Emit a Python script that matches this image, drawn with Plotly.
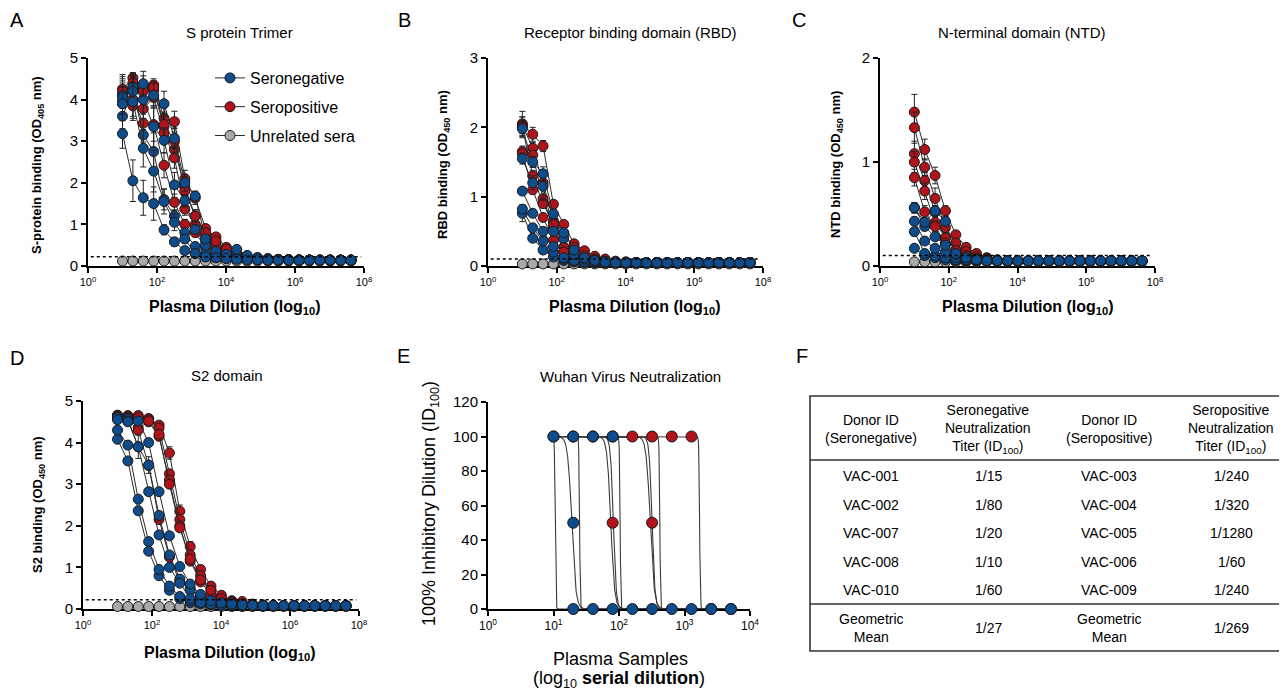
import numpy as np
import plotly.graph_objects as go

W, H = 1287, 693
OFF = 8  # default page margin of the html body
FW, FH = W - OFF, H - OFF
FONT = "Liberation Sans, Arial, sans-serif"
BLUE = "#0E4C8C"
RED = "#B0141A"
GRAY = "#A9A9A9"
EDGE = "#1A1A1A"
LINE = "#2A2A2A"

# ---------------- data ----------------
dilutions = [10, 20, 40, 80, 160, 320, 640, 1280, 2560, 5120, 10240, 20480, 40960,
             81920, 163840, 327680, 655360, 1310720, 2621440, 5242880, 10485760,
             20971520, 41943040]

# Panel A: S protein trimer (OD405)
A_seroneg = [
    [3.18, 2.05, 1.64, 1.50, 0.87, 0.58, 0.37, 0.30, 0.22, 0.20, 0.18, 0.17, 0.16, 0.15, 0.15, 0.14, 0.14, 0.14, 0.14, 0.14, 0.14, 0.14, 0.14],
    [3.60, 4.22, 3.15, 2.75, 1.60, 1.20, 0.80, 0.47, 0.30, 0.25, 0.22, 0.19, 0.17, 0.16, 0.15, 0.15, 0.14, 0.14, 0.14, 0.14, 0.14, 0.14, 0.14],
    [4.10, 4.30, 4.00, 3.35, 3.02, 1.95, 1.57, 0.88, 0.50, 0.30, 0.25, 0.20, 0.18, 0.16, 0.15, 0.15, 0.14, 0.14, 0.14, 0.14, 0.14, 0.14, 0.14],
    [4.05, 4.20, 4.38, 4.10, 3.90, 3.07, 2.00, 1.68, 0.65, 0.35, 0.28, 0.40, 0.25, 0.20, 0.17, 0.16, 0.15, 0.15, 0.14, 0.14, 0.14, 0.14, 0.14],
    [3.90, 3.95, 2.83, 2.28, 1.55, 1.05, 0.65, 0.30, 0.22, 0.20, 0.18, 0.16, 0.15, 0.15, 0.14, 0.14, 0.14, 0.14, 0.14, 0.14, 0.14, 0.14, 0.14],
]
A_seroneg_err = [
    [0.35, 0.50, 0.42, 0.40, 0.12, 0.10, 0.06, 0.05, 0.04, 0.03, 0.03, 0.02, 0.02, 0.02, 0.02, 0.02, 0.02, 0.02, 0.02, 0.02, 0.02, 0.02, 0.02],
    [0.30, 0.35, 0.40, 0.45, 0.25, 0.15, 0.10, 0.06, 0.05, 0.04, 0.03, 0.02, 0.02, 0.02, 0.02, 0.02, 0.02, 0.02, 0.02, 0.02, 0.02, 0.02, 0.02],
    [0.45, 0.35, 0.35, 0.50, 0.30, 0.30, 0.15, 0.10, 0.05, 0.04, 0.03, 0.02, 0.02, 0.02, 0.02, 0.02, 0.02, 0.02, 0.02, 0.02, 0.02, 0.02, 0.02],
    [0.40, 0.35, 0.30, 0.30, 0.30, 0.25, 0.20, 0.12, 0.08, 0.05, 0.04, 0.05, 0.03, 0.02, 0.02, 0.02, 0.02, 0.02, 0.02, 0.02, 0.02, 0.02, 0.02],
    [0.40, 0.45, 0.45, 0.50, 0.30, 0.20, 0.10, 0.05, 0.04, 0.03, 0.03, 0.02, 0.02, 0.02, 0.02, 0.02, 0.02, 0.02, 0.02, 0.02, 0.02, 0.02, 0.02],
]
A_seropos = [
    [4.25, 4.52, 4.27, 4.35, 3.55, 3.47, 2.10, 1.63, 0.90, 0.70, 0.45, 0.30, 0.25, 0.20, 0.18, 0.16, 0.15, 0.15, 0.14, 0.14, 0.14, 0.14, 0.14],
    [3.95, 4.40, 4.25, 4.22, 3.35, 2.80, 1.90, 1.20, 0.75, 0.55, 0.40, 0.28, 0.22, 0.18, 0.16, 0.15, 0.15, 0.14, 0.14, 0.14, 0.14, 0.14, 0.14],
    [3.90, 3.85, 3.78, 4.05, 3.20, 2.60, 1.37, 1.00, 0.60, 0.45, 0.35, 0.25, 0.20, 0.17, 0.15, 0.15, 0.14, 0.14, 0.14, 0.14, 0.14, 0.14, 0.14],
    [4.20, 4.00, 3.43, 3.40, 2.42, 1.53, 1.00, 0.80, 0.45, 0.30, 0.25, 0.20, 0.17, 0.15, 0.15, 0.14, 0.14, 0.14, 0.14, 0.14, 0.14, 0.14, 0.14],
    [4.10, 4.30, 4.20, 4.30, 3.40, 3.00, 1.80, 1.20, 0.80, 0.60, 0.40, 0.28, 0.22, 0.18, 0.16, 0.15, 0.15, 0.14, 0.14, 0.14, 0.14, 0.14, 0.14],
]
A_seropos_err = [
    [0.35, 0.10, 0.30, 0.10, 0.30, 0.25, 0.20, 0.15, 0.10, 0.08, 0.05, 0.03, 0.02, 0.02, 0.02, 0.02, 0.02, 0.02, 0.02, 0.02, 0.02, 0.02, 0.02],
    [0.30, 0.20, 0.20, 0.15, 0.30, 0.30, 0.25, 0.15, 0.10, 0.05, 0.04, 0.03, 0.02, 0.02, 0.02, 0.02, 0.02, 0.02, 0.02, 0.02, 0.02, 0.02, 0.02],
    [0.35, 0.30, 0.35, 0.20, 0.25, 0.25, 0.15, 0.10, 0.08, 0.05, 0.04, 0.03, 0.02, 0.02, 0.02, 0.02, 0.02, 0.02, 0.02, 0.02, 0.02, 0.02, 0.02],
    [0.30, 0.40, 0.45, 0.40, 0.30, 0.20, 0.12, 0.08, 0.05, 0.04, 0.03, 0.02, 0.02, 0.02, 0.02, 0.02, 0.02, 0.02, 0.02, 0.02, 0.02, 0.02, 0.02],
    [0.30, 0.20, 0.25, 0.20, 0.30, 0.30, 0.20, 0.15, 0.10, 0.06, 0.04, 0.03, 0.02, 0.02, 0.02, 0.02, 0.02, 0.02, 0.02, 0.02, 0.02, 0.02, 0.02],
]
A_unrelated = [0.12, 0.12, 0.12, 0.12, 0.12, 0.12, 0.12, 0.12, 0.12, 0.12, 0.12, 0.12, 0.12, 0.12, 0.12, 0.12, 0.12, 0.12, 0.12, 0.12, 0.12, 0.12, 0.12]
A_cutoff = 0.22

# Panel B: RBD (OD450)
B_seroneg = [
    [0.76, 0.40, 0.23, 0.13, 0.08, 0.06, 0.05, 0.05, 0.05, 0.05, 0.05, 0.05, 0.05, 0.05, 0.05, 0.05, 0.05, 0.05, 0.05, 0.05, 0.05, 0.05, 0.05],
    [0.82, 0.55, 0.36, 0.20, 0.10, 0.07, 0.06, 0.05, 0.05, 0.05, 0.05, 0.05, 0.05, 0.05, 0.05, 0.05, 0.05, 0.05, 0.05, 0.05, 0.05, 0.05, 0.05],
    [1.08, 0.76, 0.50, 0.28, 0.12, 0.08, 0.06, 0.05, 0.05, 0.05, 0.05, 0.05, 0.05, 0.05, 0.05, 0.05, 0.05, 0.05, 0.05, 0.05, 0.05, 0.05, 0.05],
    [1.55, 1.20, 1.15, 0.50, 0.40, 0.17, 0.10, 0.07, 0.06, 0.05, 0.05, 0.05, 0.05, 0.05, 0.05, 0.05, 0.05, 0.05, 0.05, 0.05, 0.05, 0.05, 0.05],
    [1.98, 1.50, 1.33, 0.75, 0.48, 0.23, 0.12, 0.08, 0.06, 0.05, 0.05, 0.05, 0.05, 0.05, 0.05, 0.05, 0.05, 0.05, 0.05, 0.05, 0.05, 0.05, 0.05],
]
B_seroneg_err = [
    [0.12, 0.04, 0.03, 0.02, 0.01, 0.01, 0.01, 0.01, 0.01, 0.01, 0.01, 0.01, 0.01, 0.01, 0.01, 0.01, 0.01, 0.01, 0.01, 0.01, 0.01, 0.01, 0.01],
    [0.06, 0.05, 0.04, 0.03, 0.02, 0.01, 0.01, 0.01, 0.01, 0.01, 0.01, 0.01, 0.01, 0.01, 0.01, 0.01, 0.01, 0.01, 0.01, 0.01, 0.01, 0.01, 0.01],
    [0.05, 0.05, 0.04, 0.03, 0.02, 0.01, 0.01, 0.01, 0.01, 0.01, 0.01, 0.01, 0.01, 0.01, 0.01, 0.01, 0.01, 0.01, 0.01, 0.01, 0.01, 0.01, 0.01],
    [0.08, 0.10, 0.20, 0.05, 0.05, 0.02, 0.01, 0.01, 0.01, 0.01, 0.01, 0.01, 0.01, 0.01, 0.01, 0.01, 0.01, 0.01, 0.01, 0.01, 0.01, 0.01, 0.01],
    [0.10, 0.08, 0.10, 0.06, 0.05, 0.03, 0.02, 0.01, 0.01, 0.01, 0.01, 0.01, 0.01, 0.01, 0.01, 0.01, 0.01, 0.01, 0.01, 0.01, 0.01, 0.01, 0.01],
]
B_seropos = [
    [2.05, 1.90, 1.73, 0.89, 0.60, 0.32, 0.22, 0.14, 0.10, 0.07, 0.06, 0.05, 0.05, 0.05, 0.05, 0.05, 0.05, 0.05, 0.05, 0.05, 0.05, 0.05, 0.05],
    [2.03, 1.70, 1.20, 0.65, 0.47, 0.27, 0.15, 0.10, 0.07, 0.06, 0.05, 0.05, 0.05, 0.05, 0.05, 0.05, 0.05, 0.05, 0.05, 0.05, 0.05, 0.05, 0.05],
    [1.65, 1.60, 0.97, 0.55, 0.27, 0.15, 0.10, 0.08, 0.06, 0.05, 0.05, 0.05, 0.05, 0.05, 0.05, 0.05, 0.05, 0.05, 0.05, 0.05, 0.05, 0.05, 0.05],
    [2.00, 1.30, 0.90, 0.60, 0.20, 0.12, 0.08, 0.06, 0.05, 0.05, 0.05, 0.05, 0.05, 0.05, 0.05, 0.05, 0.05, 0.05, 0.05, 0.05, 0.05, 0.05, 0.05],
    [1.62, 1.10, 0.70, 0.37, 0.20, 0.12, 0.08, 0.06, 0.05, 0.05, 0.05, 0.05, 0.05, 0.05, 0.05, 0.05, 0.05, 0.05, 0.05, 0.05, 0.05, 0.05, 0.05],
]
B_seropos_err = [
    [0.18, 0.10, 0.08, 0.05, 0.04, 0.03, 0.02, 0.01, 0.01, 0.01, 0.01, 0.01, 0.01, 0.01, 0.01, 0.01, 0.01, 0.01, 0.01, 0.01, 0.01, 0.01, 0.01],
    [0.12, 0.08, 0.08, 0.05, 0.04, 0.03, 0.02, 0.01, 0.01, 0.01, 0.01, 0.01, 0.01, 0.01, 0.01, 0.01, 0.01, 0.01, 0.01, 0.01, 0.01, 0.01, 0.01],
    [0.08, 0.06, 0.06, 0.04, 0.03, 0.02, 0.01, 0.01, 0.01, 0.01, 0.01, 0.01, 0.01, 0.01, 0.01, 0.01, 0.01, 0.01, 0.01, 0.01, 0.01, 0.01, 0.01],
    [0.15, 0.08, 0.06, 0.05, 0.03, 0.02, 0.01, 0.01, 0.01, 0.01, 0.01, 0.01, 0.01, 0.01, 0.01, 0.01, 0.01, 0.01, 0.01, 0.01, 0.01, 0.01, 0.01],
    [0.06, 0.06, 0.05, 0.04, 0.03, 0.02, 0.01, 0.01, 0.01, 0.01, 0.01, 0.01, 0.01, 0.01, 0.01, 0.01, 0.01, 0.01, 0.01, 0.01, 0.01, 0.01, 0.01],
]
B_unrelated = [0.03, 0.03, 0.03, 0.03, 0.03, 0.03, 0.03, 0.03, 0.03, 0.03, 0.03, 0.03, 0.03, 0.03, 0.03, 0.03, 0.03, 0.03, 0.03, 0.03, 0.03, 0.03, 0.03]
B_cutoff = 0.10

# Panel C: NTD (OD450)
C_seroneg = [
    [0.17, 0.10, 0.08, 0.06, 0.05, 0.05, 0.05, 0.05, 0.05, 0.05, 0.05, 0.05, 0.05, 0.05, 0.05, 0.05, 0.05, 0.05, 0.05, 0.05, 0.05, 0.05, 0.05],
    [0.33, 0.12, 0.10, 0.08, 0.06, 0.05, 0.05, 0.05, 0.05, 0.05, 0.05, 0.05, 0.05, 0.05, 0.05, 0.05, 0.05, 0.05, 0.05, 0.05, 0.05, 0.05, 0.05],
    [0.43, 0.24, 0.17, 0.13, 0.08, 0.06, 0.05, 0.05, 0.05, 0.05, 0.05, 0.05, 0.05, 0.05, 0.05, 0.05, 0.05, 0.05, 0.05, 0.05, 0.05, 0.05, 0.05],
    [0.56, 0.38, 0.28, 0.20, 0.11, 0.08, 0.06, 0.05, 0.05, 0.05, 0.05, 0.05, 0.05, 0.05, 0.05, 0.05, 0.05, 0.05, 0.05, 0.05, 0.05, 0.05, 0.05],
    [0.56, 0.42, 0.53, 0.43, 0.12, 0.08, 0.06, 0.05, 0.05, 0.05, 0.05, 0.05, 0.05, 0.05, 0.05, 0.05, 0.05, 0.05, 0.05, 0.05, 0.05, 0.05, 0.05],
]
C_seroneg_err = [
    [0.03, 0.02, 0.01, 0.01, 0.01, 0.01, 0.01, 0.01, 0.01, 0.01, 0.01, 0.01, 0.01, 0.01, 0.01, 0.01, 0.01, 0.01, 0.01, 0.01, 0.01, 0.01, 0.01],
    [0.04, 0.02, 0.02, 0.01, 0.01, 0.01, 0.01, 0.01, 0.01, 0.01, 0.01, 0.01, 0.01, 0.01, 0.01, 0.01, 0.01, 0.01, 0.01, 0.01, 0.01, 0.01, 0.01],
    [0.04, 0.03, 0.02, 0.02, 0.01, 0.01, 0.01, 0.01, 0.01, 0.01, 0.01, 0.01, 0.01, 0.01, 0.01, 0.01, 0.01, 0.01, 0.01, 0.01, 0.01, 0.01, 0.01],
    [0.05, 0.04, 0.03, 0.02, 0.01, 0.01, 0.01, 0.01, 0.01, 0.01, 0.01, 0.01, 0.01, 0.01, 0.01, 0.01, 0.01, 0.01, 0.01, 0.01, 0.01, 0.01, 0.01],
    [0.05, 0.04, 0.05, 0.04, 0.02, 0.01, 0.01, 0.01, 0.01, 0.01, 0.01, 0.01, 0.01, 0.01, 0.01, 0.01, 0.01, 0.01, 0.01, 0.01, 0.01, 0.01, 0.01],
]
C_seropos = [
    [1.48, 1.12, 0.87, 0.53, 0.30, 0.18, 0.12, 0.08, 0.06, 0.05, 0.05, 0.05, 0.05, 0.05, 0.05, 0.05, 0.05, 0.05, 0.05, 0.05, 0.05, 0.05, 0.05],
    [1.33, 0.95, 0.65, 0.37, 0.22, 0.14, 0.09, 0.07, 0.05, 0.05, 0.05, 0.05, 0.05, 0.05, 0.05, 0.05, 0.05, 0.05, 0.05, 0.05, 0.05, 0.05, 0.05],
    [1.08, 0.82, 0.52, 0.27, 0.15, 0.10, 0.07, 0.06, 0.05, 0.05, 0.05, 0.05, 0.05, 0.05, 0.05, 0.05, 0.05, 0.05, 0.05, 0.05, 0.05, 0.05, 0.05],
    [1.00, 0.72, 0.42, 0.27, 0.15, 0.10, 0.07, 0.05, 0.05, 0.05, 0.05, 0.05, 0.05, 0.05, 0.05, 0.05, 0.05, 0.05, 0.05, 0.05, 0.05, 0.05, 0.05],
    [0.85, 0.52, 0.38, 0.22, 0.12, 0.08, 0.06, 0.05, 0.05, 0.05, 0.05, 0.05, 0.05, 0.05, 0.05, 0.05, 0.05, 0.05, 0.05, 0.05, 0.05, 0.05, 0.05],
]
C_seropos_err = [
    [0.17, 0.10, 0.08, 0.05, 0.03, 0.02, 0.01, 0.01, 0.01, 0.01, 0.01, 0.01, 0.01, 0.01, 0.01, 0.01, 0.01, 0.01, 0.01, 0.01, 0.01, 0.01, 0.01],
    [0.15, 0.08, 0.10, 0.05, 0.03, 0.02, 0.01, 0.01, 0.01, 0.01, 0.01, 0.01, 0.01, 0.01, 0.01, 0.01, 0.01, 0.01, 0.01, 0.01, 0.01, 0.01, 0.01],
    [0.12, 0.08, 0.06, 0.04, 0.02, 0.01, 0.01, 0.01, 0.01, 0.01, 0.01, 0.01, 0.01, 0.01, 0.01, 0.01, 0.01, 0.01, 0.01, 0.01, 0.01, 0.01, 0.01],
    [0.10, 0.08, 0.06, 0.04, 0.02, 0.01, 0.01, 0.01, 0.01, 0.01, 0.01, 0.01, 0.01, 0.01, 0.01, 0.01, 0.01, 0.01, 0.01, 0.01, 0.01, 0.01, 0.01],
    [0.08, 0.06, 0.05, 0.03, 0.02, 0.01, 0.01, 0.01, 0.01, 0.01, 0.01, 0.01, 0.01, 0.01, 0.01, 0.01, 0.01, 0.01, 0.01, 0.01, 0.01, 0.01, 0.01],
]
C_unrelated = [0.04, 0.04, 0.04, 0.04, 0.04, 0.04, 0.04, 0.04, 0.04, 0.04, 0.04, 0.04, 0.04, 0.04, 0.04, 0.04, 0.04, 0.04, 0.04, 0.04, 0.04, 0.04, 0.04]
C_cutoff = 0.10

# Panel D: S2 domain (OD450)
D_seroneg = [
    [4.08, 3.56, 2.36, 1.39, 0.80, 0.45, 0.25, 0.15, 0.12, 0.10, 0.09, 0.08, 0.08, 0.08, 0.08, 0.08, 0.08, 0.08, 0.08, 0.08, 0.08, 0.08, 0.08],
    [4.30, 3.94, 2.64, 1.62, 0.95, 0.55, 0.30, 0.20, 0.15, 0.12, 0.10, 0.09, 0.08, 0.08, 0.08, 0.08, 0.08, 0.08, 0.08, 0.08, 0.08, 0.08, 0.08],
    [4.58, 4.57, 3.90, 3.46, 2.25, 1.30, 0.72, 0.45, 0.25, 0.15, 0.12, 0.10, 0.09, 0.08, 0.08, 0.08, 0.08, 0.08, 0.08, 0.08, 0.08, 0.08, 0.08],
    [4.60, 4.52, 3.90, 2.82, 1.78, 1.00, 0.62, 0.25, 0.15, 0.12, 0.10, 0.09, 0.08, 0.08, 0.08, 0.08, 0.08, 0.08, 0.08, 0.08, 0.08, 0.08, 0.08],
    [4.55, 4.50, 4.52, 4.00, 2.82, 1.76, 1.02, 0.60, 0.35, 0.20, 0.15, 0.12, 0.10, 0.09, 0.08, 0.08, 0.08, 0.08, 0.08, 0.08, 0.08, 0.08, 0.08],
]
D_seroneg_err = [
    [0.06, 0.05, 0.05, 0.05, 0.04, 0.03, 0.02, 0.01, 0.01, 0.01, 0.01, 0.01, 0.01, 0.01, 0.01, 0.01, 0.01, 0.01, 0.01, 0.01, 0.01, 0.01, 0.01],
    [0.06, 0.06, 0.05, 0.05, 0.04, 0.03, 0.02, 0.01, 0.01, 0.01, 0.01, 0.01, 0.01, 0.01, 0.01, 0.01, 0.01, 0.01, 0.01, 0.01, 0.01, 0.01, 0.01],
    [0.05, 0.05, 0.28, 0.20, 0.08, 0.05, 0.03, 0.02, 0.01, 0.01, 0.01, 0.01, 0.01, 0.01, 0.01, 0.01, 0.01, 0.01, 0.01, 0.01, 0.01, 0.01, 0.01],
    [0.05, 0.05, 0.10, 0.08, 0.06, 0.04, 0.03, 0.02, 0.01, 0.01, 0.01, 0.01, 0.01, 0.01, 0.01, 0.01, 0.01, 0.01, 0.01, 0.01, 0.01, 0.01, 0.01],
    [0.05, 0.05, 0.05, 0.08, 0.08, 0.05, 0.04, 0.03, 0.02, 0.01, 0.01, 0.01, 0.01, 0.01, 0.01, 0.01, 0.01, 0.01, 0.01, 0.01, 0.01, 0.01, 0.01],
]
D_seropos = [
    [4.66, 4.65, 4.65, 4.58, 4.42, 3.75, 2.35, 1.50, 0.95, 0.55, 0.33, 0.20, 0.18, 0.12, 0.10, 0.09, 0.08, 0.08, 0.08, 0.08, 0.08, 0.08, 0.08],
    [4.65, 4.62, 4.55, 4.55, 4.35, 3.25, 2.15, 1.30, 0.80, 0.45, 0.25, 0.18, 0.12, 0.10, 0.09, 0.08, 0.08, 0.08, 0.08, 0.08, 0.08, 0.08, 0.08],
    [4.62, 4.60, 4.35, 4.50, 4.15, 3.10, 2.00, 1.15, 0.65, 0.35, 0.20, 0.15, 0.10, 0.09, 0.08, 0.08, 0.08, 0.08, 0.08, 0.08, 0.08, 0.08, 0.08],
    [4.64, 4.60, 4.60, 4.52, 4.20, 3.00, 1.95, 1.20, 0.70, 0.45, 0.25, 0.15, 0.12, 0.10, 0.09, 0.08, 0.08, 0.08, 0.08, 0.08, 0.08, 0.08, 0.08],
    [4.62, 4.55, 4.30, 3.45, 2.15, 1.25, 0.65, 0.50, 0.30, 0.20, 0.15, 0.12, 0.10, 0.09, 0.08, 0.08, 0.08, 0.08, 0.08, 0.08, 0.08, 0.08, 0.08],
]
D_seropos_err = [
    [0.04, 0.04, 0.04, 0.05, 0.06, 0.15, 0.15, 0.12, 0.08, 0.05, 0.03, 0.02, 0.01, 0.01, 0.01, 0.01, 0.01, 0.01, 0.01, 0.01, 0.01, 0.01, 0.01],
    [0.04, 0.04, 0.05, 0.05, 0.06, 0.10, 0.10, 0.08, 0.06, 0.04, 0.02, 0.01, 0.01, 0.01, 0.01, 0.01, 0.01, 0.01, 0.01, 0.01, 0.01, 0.01, 0.01],
    [0.04, 0.04, 0.05, 0.05, 0.08, 0.10, 0.08, 0.06, 0.05, 0.03, 0.02, 0.01, 0.01, 0.01, 0.01, 0.01, 0.01, 0.01, 0.01, 0.01, 0.01, 0.01, 0.01],
    [0.04, 0.04, 0.04, 0.05, 0.06, 0.08, 0.08, 0.06, 0.05, 0.03, 0.02, 0.01, 0.01, 0.01, 0.01, 0.01, 0.01, 0.01, 0.01, 0.01, 0.01, 0.01, 0.01],
    [0.04, 0.05, 0.06, 0.10, 0.08, 0.06, 0.04, 0.03, 0.02, 0.01, 0.01, 0.01, 0.01, 0.01, 0.01, 0.01, 0.01, 0.01, 0.01, 0.01, 0.01, 0.01, 0.01],
]
D_unrelated = [0.06, 0.06, 0.06, 0.06, 0.06, 0.06, 0.06, 0.06, 0.06, 0.06, 0.06, 0.06, 0.06, 0.06, 0.06, 0.06, 0.06, 0.06, 0.06, 0.06, 0.06, 0.06, 0.06]
D_cutoff = 0.22

# Panel E: neutralization (points and fitted curves)
E_seroneg_x = [10, 20, 40, 80, 20, 20, 40, 80, 160, 320, 640, 1280, 2560, 5120]
E_seroneg_y = [100, 100, 100, 100, 50, 0, 0, 0, 0, 0, 0, 0, 0, 0]
E_seropos_x = [10, 20, 40, 80, 160, 320, 640, 1280, 80, 320, 2560, 5120]
E_seropos_y = [100, 100, 100, 100, 100, 100, 100, 100, 50, 50, 0, 0]
E_seroneg_ic50 = [19, 104, 25, 10.6, 75]
E_seroneg_hill = [14, 80, 80, 80, 15]
E_seropos_ic50 = [300, 420, 1700, 82, 320]
E_seropos_hill = [14, 80, 80, 20, 20]
E_fit_range = [10, 5120]

# Panel F: table
tbl_header = ["Donor ID<br>(Seronegative)",
              "Seronegative<br>Neutralization<br>Titer (ID<sub>100</sub>)",
              "Donor ID<br>(Seropositive)",
              "Seropositive<br>Neutralization<br>Titer (ID<sub>100</sub>)"]
seroneg_donors = ["VAC-001", "VAC-002", "VAC-007", "VAC-008", "VAC-010"]
seroneg_titers = ["1/15", "1/80", "1/20", "1/10", "1/60"]
seropos_donors = ["VAC-003", "VAC-004", "VAC-005", "VAC-006", "VAC-009"]
seropos_titers = ["1/240", "1/320", "1/1280", "1/60", "1/240"]
geo_label = "Geometric<br>Mean"
seroneg_geomean = "1/27"
seropos_geomean = "1/269"

# ---------------- helpers (page pixel -> paper) ----------------
def px_x(p):
    return (p - OFF) / FW

def px_y(p):
    return 1 - (p - OFF) / FH

fig = go.Figure()
annotations = []
shapes = []

def ann(x, y, text, size, bold=False, angle=0, xanchor="center", yanchor="middle"):
    if bold:
        text = "<b>" + text + "</b>"
    annotations.append(dict(x=px_x(x), y=px_y(y), xref="paper", yref="paper", text=text,
                            showarrow=False, textangle=angle, xanchor=xanchor, yanchor=yanchor,
                            font=dict(family=FONT, size=size, color="black")))

def binding_panel(n, neg, neg_err, pos, pos_err, unrel, cutoff, legend):
    xa = "x" if n == 1 else "x%d" % n
    ya = "y" if n == 1 else "y%d" % n
    def add(y, err, color, name, rank, show):
        xs = dilutions[:len(y)]
        fig.add_trace(go.Scatter(
            x=xs, y=y, xaxis=xa, yaxis=ya, mode="lines+markers",
            line=dict(color=LINE, width=1),
            marker=dict(size=10, color=color, line=dict(color=EDGE, width=1)),
            error_y=None if err is None else dict(type="data", array=err[:len(y)], visible=True,
                                                    color="#222", thickness=1, width=3),
            name=name, legendgroup=name, legendrank=rank, showlegend=show,
            cliponaxis=False))
    add(unrel, None, GRAY, "Unrelated sera", 3, legend)
    for i, (y, e) in enumerate(zip(pos, pos_err)):
        add(y, e, RED, "Seropositive", 2, legend and i == 0)
    for i, (y, e) in enumerate(zip(neg, neg_err)):
        add(y, e, BLUE, "Seronegative", 1, legend and i == 0)
    shapes.append(dict(type="line", xref=xa + " domain", yref=ya, x0=0.01, x1=0.99,
                       y0=cutoff, y1=cutoff, line=dict(color="black", width=1.5, dash="dot")))

binding_panel(1, A_seroneg, A_seroneg_err, A_seropos, A_seropos_err, A_unrelated, A_cutoff, True)
binding_panel(2, B_seroneg, B_seroneg_err, B_seropos, B_seropos_err, B_unrelated, B_cutoff, False)
binding_panel(3, C_seroneg, C_seroneg_err, C_seropos, C_seropos_err, C_unrelated, C_cutoff, False)
binding_panel(4, D_seroneg, D_seroneg_err, D_seropos, D_seropos_err, D_unrelated, D_cutoff, False)

# Panel E fitted curves
xfit = np.logspace(np.log10(E_fit_range[0]), np.log10(E_fit_range[1]), 600)
for ic, h in list(zip(E_seroneg_ic50, E_seroneg_hill)) + list(zip(E_seropos_ic50, E_seropos_hill)):
    yfit = 100.0 / (1.0 + (xfit / ic) ** h)
    fig.add_trace(go.Scatter(x=xfit, y=yfit, xaxis="x5", yaxis="y5", mode="lines",
                             line=dict(color="#3a3a3a", width=1.1), showlegend=False,
                             hoverinfo="skip", cliponaxis=False))
fig.add_trace(go.Scatter(x=E_seropos_x, y=E_seropos_y, xaxis="x5", yaxis="y5", mode="markers",
                         marker=dict(size=11, color=RED, line=dict(color=EDGE, width=1)),
                         showlegend=False, cliponaxis=False))
fig.add_trace(go.Scatter(x=E_seroneg_x, y=E_seroneg_y, xaxis="x5", yaxis="y5", mode="markers",
                         marker=dict(size=11, color=BLUE, line=dict(color=EDGE, width=1)),
                         showlegend=False, cliponaxis=False))

# ---------------- axes ----------------
def xaxis(dom, rng, tickvals, size):
    return dict(domain=[px_x(dom[0]), px_x(dom[1])], type="log", range=rng,
                tickvals=tickvals,
                ticktext=["10<sup>%d</sup>" % int(round(np.log10(v))) for v in tickvals],
                showline=True, linecolor="black", linewidth=2, ticks="outside", ticklen=5,
                tickwidth=1.5, tickcolor="black", showgrid=False, zeroline=False,
                automargin=False,
                tickfont=dict(family=FONT, size=size, color="black"), layer="below traces")

def yaxis(dom, rng, dtick, size):
    return dict(domain=[px_y(dom[1]), px_y(dom[0])], range=rng, dtick=dtick, tick0=0,
                showline=True, linecolor="black", linewidth=2, ticks="outside", ticklen=5,
                tickwidth=1.5, tickcolor="black", showgrid=False, zeroline=False,
                automargin=False,
                tickfont=dict(family=FONT, size=size, color="black"), layer="below traces")

bind_ticks = [1, 1e2, 1e4, 1e6, 1e8]
layout_axes = {}
layout_axes["xaxis"] = dict(xaxis((88, 364), [0, 8], bind_ticks, 11), anchor="y")
layout_axes["yaxis"] = dict(yaxis((58, 266), [0, 5], 1, 15), anchor="x")
layout_axes["xaxis2"] = dict(xaxis((488, 763), [0, 8], bind_ticks, 11), anchor="y2")
layout_axes["yaxis2"] = dict(yaxis((58, 266), [0, 3], 1, 15), anchor="x2")
layout_axes["xaxis3"] = dict(xaxis((880, 1155), [0, 8], bind_ticks, 11), anchor="y3")
layout_axes["yaxis3"] = dict(yaxis((58, 266), [0, 2], 1, 15), anchor="x3")
layout_axes["xaxis4"] = dict(xaxis((83, 359), [0, 8], bind_ticks, 11), anchor="y4")
layout_axes["yaxis4"] = dict(yaxis((401, 609), [0, 5], 1, 15), anchor="x4")
layout_axes["xaxis5"] = dict(xaxis((488, 750), [0, 4], [1, 10, 100, 1000, 10000], 12), anchor="y5")
layout_axes["yaxis5"] = dict(yaxis((402, 609), [0, 120], 20, 15), anchor="x5")

# ---------------- text ----------------
for lab, x, y in [("A", 17, 20), ("B", 404, 20), ("C", 799, 20),
                  ("D", 17, 358), ("E", 403, 356), ("F", 802, 356)]:
    ann(x, y, lab, 20)

ann(240, 33, "S protein Trimer", 15)
ann(630, 33, "Receptor binding domain (RBD)", 15)
ann(1022, 33, "N-terminal domain (NTD)", 15)
ann(227, 375, "S2 domain", 15)
ann(630, 376, "Wuhan Virus Neutralization", 15)

ann(235, 307, "Plasma Dilution (log<sub>10</sub>)", 16, bold=True)
ann(635, 307, "Plasma Dilution (log<sub>10</sub>)", 16, bold=True)
ann(1028, 307, "Plasma Dilution (log<sub>10</sub>)", 16, bold=True)
ann(230, 653, "Plasma Dilution (log<sub>10</sub>)", 16, bold=True)

ann(37, 165, "S-protein binding (OD<sub>405</sub> nm)", 13, bold=True, angle=-90)
ann(443, 165, "RBD binding (OD<sub>450</sub> nm)", 13, bold=True, angle=-90)
ann(836, 165, "NTD binding (OD<sub>450</sub> nm)", 13, bold=True, angle=-90)
ann(38, 505, "S2 binding (OD<sub>450</sub> nm)", 13, bold=True, angle=-90)

ann(430, 503, "100% Inhibitory Dilution (ID<sub>100</sub>)", 18, angle=-90)
ann(620, 659, "Plasma Samples", 18)
ann(619, 679, "(log<sub>10</sub> <b>serial dilution</b>)", 18)

# ---------------- table F ----------------
tx0, tx1, ty0, ty1 = 810, 1285, 396, 651
shapes.append(dict(type="rect", xref="paper", yref="paper", x0=px_x(tx0), x1=px_x(tx1),
                   y0=px_y(ty1), y1=px_y(ty0), line=dict(color="#333", width=1.6)))
for yy in (460, 604):
    shapes.append(dict(type="line", xref="paper", yref="paper", x0=px_x(tx0), x1=px_x(tx1),
                       y0=px_y(yy), y1=px_y(yy), line=dict(color="#333", width=1.6)))
col_x = [871, 988, 1109, 1231]
for cx, t in zip(col_x, tbl_header):
    ann(cx, 429, t, 14)
row_y = [476, 504.5, 533, 562, 590]
for i, ry in enumerate(row_y):
    ann(col_x[0], ry, seroneg_donors[i], 14)
    ann(col_x[1], ry, seroneg_titers[i], 14)
    ann(col_x[2], ry, seropos_donors[i], 14)
    ann(col_x[3], ry, seropos_titers[i], 14)
ann(col_x[0], 628, geo_label, 14)
ann(col_x[1], 628, seroneg_geomean, 14)
ann(col_x[2], 628, geo_label, 14)
ann(col_x[3], 628, seropos_geomean, 14)

fig.update_layout(
    template="none",
    width=FW, height=FH, autosize=False,
    margin=dict(l=0, r=0, t=0, b=0, pad=0, autoexpand=False),
    paper_bgcolor="white", plot_bgcolor="white",
    font=dict(family=FONT, color="black"),
    showlegend=True,
    legend=dict(x=px_x(210), y=px_y(61), xanchor="left", yanchor="top",
                bgcolor="rgba(0,0,0,0)", borderwidth=0,
                font=dict(family=FONT, size=16, color="black"),
                traceorder="grouped", tracegroupgap=5, itemsizing="trace"),
    annotations=annotations, shapes=shapes,
    **layout_axes,
)

fig.write_html("out.html")
